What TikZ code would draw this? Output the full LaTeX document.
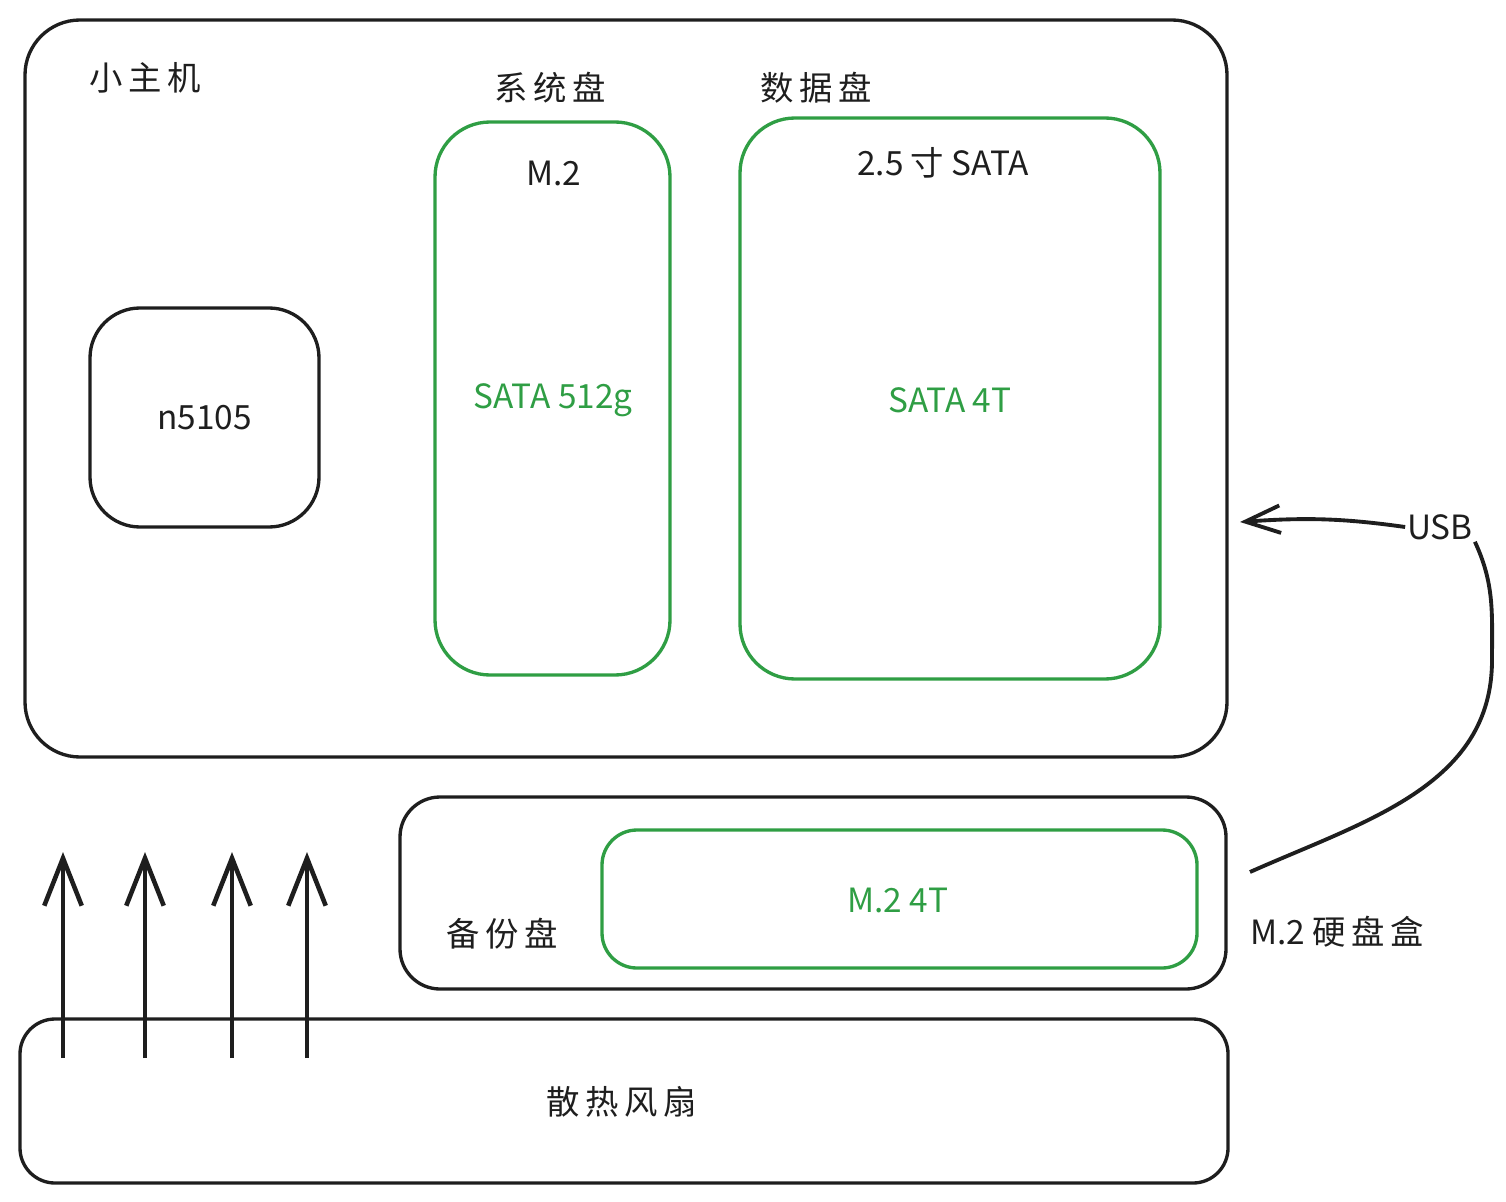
\documentclass[tikz,border=0pt]{standalone}
\usepackage{fontspec}
\setmainfont{Noto Sans CJK SC}
\usetikzlibrary{arrows.meta, positioning, fit}
\definecolor{inkblack}{RGB}{30,30,30}
\definecolor{diskgreen}{RGB}{47,158,68}

\begin{document}
\begin{tikzpicture}[x=0.02cm, y=-0.02cm, >=Stealth,
    box/.style={draw=inkblack, line width=1.9pt, inner sep=0pt},
    disk/.style={draw=diskgreen, line width=1.9pt, inner sep=0pt},
    lbl/.style={text=inkblack, font=\fontsize{19}{22}\selectfont},
    glbl/.style={text=diskgreen, font=\fontsize{19}{22}\selectfont},
    flow/.style={-{Straight Barb[length=0.95cm, width=0.75cm]}, line width=2.6pt, draw=inkblack},
    link/.style={line width=2.2pt, draw=inkblack}]
    \useasboundingbox (0,0) rectangle (1506,1202);

    % Host
    \node[box, rounded corners=1.1cm, fit={(25,20) (1227,757)}] (host) {};
    \node[lbl] (hostlbl) at (145,78) {小\,主\,机};

    % CPU
    \node[box, rounded corners=1cm, fit={(90,308) (319,527)}] (cpu) {};
    \node[lbl] (cpulbl) at (cpu.center) {n5105};

    % System disk
    \node[lbl] (syslbl) at (550,88) {系\,统\,盘};
    \node[disk, rounded corners=1.1cm, fit={(435,122) (670,675)}] (sys) {};
    \node[lbl] (sysslot) at (554,173) {M.2};
    \node[glbl] (sysdisk) at (553,400) {SATA 512g};

    % Data disk
    \node[lbl] (datalbl) at (816,88) {数\,据\,盘};
    \node[disk, rounded corners=1.1cm, fit={(740,118) (1160,679)}] (data) {};
    \node[lbl] (dataslot) at (943,163) {2.5 寸 SATA};
    \node[glbl] (datadisk) at (950,400) {SATA 4T};

    % Backup enclosure
    \node[box, rounded corners=0.8cm, fit={(400,797) (1226,989)}] (encl) {};
    \node[lbl] (backlbl) at (502,934) {备\,份\,盘};
    \node[disk, rounded corners=0.7cm, fit={(602,830) (1197,968)}] (back) {};
    \node[glbl] (backdisk) at (898,900) {M.2 4T};
    \node[lbl] (encllbl) at (1337,932) {M.2 硬\,盘\,盒};

    % Fan
    \node[box, rounded corners=0.7cm, fit={(20,1019) (1228,1183)}] (fan) {};
    \node[lbl] (fanlbl) at (622,1102) {散\,热\,风\,扇};

    % Airflow
    \foreach \x [count=\i] in {63,145,232,307} {
        \coordinate (air\i) at (\x,1058);
        \coordinate (airtop\i) at (\x,852);
        \draw[flow] (air\i) -- (airtop\i);
    }

    % USB link
    \node[lbl, inner sep=1pt] (usb) at (1440,527) {USB};
    \coordinate (usbfrom) at (1250,872);
    \coordinate (usbto) at (1240,522);
    \draw[link] (usbfrom) to[out=24, in=-90] (1492,660) to[out=90, in=-65] (usb.south east);
    \draw[link, -{Straight Barb[length=0.7cm, width=0.55cm]}] (usb.west) to[out=172, in=4] (usbto);
\end{tikzpicture}
\end{document}
